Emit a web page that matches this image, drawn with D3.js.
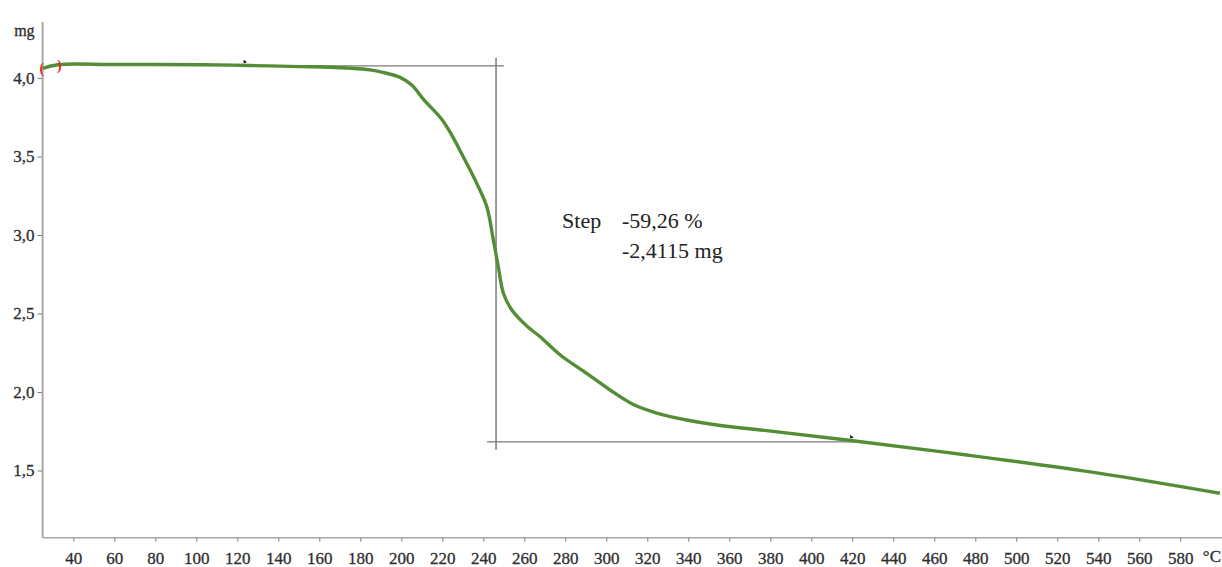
<!DOCTYPE html>
<html>
<head>
<meta charset="utf-8">
<script src="https://cdn.jsdelivr.net/npm/d3@7"></script>
<style>
  body { margin: 0; background: #fff; }
  svg { display: block; }
  svg text { font-family: "Liberation Serif", "Times New Roman", serif !important; }
</style>
</head>
<body>
<script>
// TGA curve: temperature (°C) and mass (mg)
var temps = [25, 32.5, 60, 103, 126, 150.6, 165, 175, 184.7, 191, 199.4, 205.1, 210.7,
  219.7, 224.6, 230.2, 236.8, 241.7, 244.9, 247.3, 249.8, 253.9, 261.2, 267.7, 277.5,
  290.4, 301.8, 313.2, 324.6, 339.2, 353.9, 378.2, 417.3, 475.8, 540.8, 599.3];
var masses = [4.062, 4.085, 4.086, 4.085, 4.080, 4.073, 4.069, 4.063, 4.052, 4.036, 4.004,
  3.955, 3.866, 3.738, 3.637, 3.499, 3.329, 3.180, 2.968, 2.798, 2.629, 2.522, 2.420,
  2.352, 2.236, 2.119, 2.013, 1.920, 1.866, 1.822, 1.790, 1.754, 1.694, 1.599, 1.482, 1.355];

// step evaluation
var stepTemp = 246.2;
var stepTop = 4.078, stepBottom = 1.683;
var stepLeft = 124, stepRight = 422;
var stepText = ["-59,26 %", "-2,4115 mg"];

// axis ticks
var xMajor = d3.range(40, 581, 20);
var xMinor = d3.range(30, 600, 10).filter(function (d) { return d % 20 !== 0; });
var yMajor = [1.5, 2.0, 2.5, 3.0, 3.5, 4.0];
var yMinor = d3.range(11, 44).map(function (d) { return d / 10; })
  .filter(function (d) { return yMajor.indexOf(d) < 0; });

// markers
var markTemps = [123.8, 419.7];
var markMasses = [4.100, 1.711];

var width = 1222, height = 567;

var svg = d3.select("body").append("svg")
  .attr("width", width)
  .attr("height", height);

var x = d3.scaleLinear().domain([25, 600]).range([42.6, 1221.3]);
var y = d3.scaleLinear().domain([1.072, 4.357]).range([537.7, 22]);

var comma = d3.formatLocale({decimal: ",", thousands: ".", grouping: [3], currency: ["", ""]}).format(".1f");

var axisColor = "#a8a8a8", textColor = "#2e2e2e";

// x axis
var gx = svg.append("g").attr("transform", "translate(0," + y.range()[0] + ")");
gx.call(d3.axisBottom(x).tickValues(xMinor).tickSize(3).tickFormat(""));
gx.call(d3.axisBottom(x).tickValues(xMajor).tickSize(4).tickPadding(10).tickFormat(function (d) { return d; }));
gx.attr("font-size", 17);
gx.selectAll(".domain").remove();
gx.selectAll("line").attr("stroke", "#777");
gx.selectAll("text").attr("fill", textColor).attr("stroke", textColor).attr("stroke-width", 0.3);
svg.append("line")
  .attr("x1", x.range()[0]).attr("x2", width)
  .attr("y1", y.range()[0]).attr("y2", y.range()[0])
  .attr("stroke", axisColor).attr("stroke-width", 1.5);
svg.append("text")
  .attr("x", width - 1).attr("y", 562)
  .attr("text-anchor", "end")
  .attr("fill", textColor)
  .attr("stroke", textColor).attr("stroke-width", 0.3)
  .attr("font-size", 17)
  .text("°C");

// y axis
var gy = svg.append("g").attr("transform", "translate(" + x.range()[0] + ",0)");
gy.call(d3.axisLeft(y).tickValues(yMinor).tickSize(4).tickFormat(""));
gy.call(d3.axisLeft(y).tickValues(yMajor).tickSize(5).tickPadding(3).tickFormat(comma));
gy.attr("font-size", 17);
gy.selectAll(".domain").remove();
gy.selectAll("line").attr("stroke", "#777");
gy.selectAll("text").attr("fill", textColor).attr("stroke", textColor).attr("stroke-width", 0.3);
gy.append("text")
  .attr("x", -8).attr("y", y(4.3))
  .attr("dy", "0.32em")
  .attr("text-anchor", "end")
  .attr("fill", textColor)
  .attr("stroke", textColor).attr("stroke-width", 0.3)
  .attr("font-size", 16)
  .text("mg");
svg.append("line")
  .attr("x1", x.range()[0]).attr("x2", x.range()[0])
  .attr("y1", y.range()[1]).attr("y2", y.range()[0])
  .attr("stroke", axisColor).attr("stroke-width", 2);

// step lines
var stepColor = "#7a7a7a";
svg.append("line")
  .attr("x1", x(stepLeft)).attr("x2", x(stepTemp) + 8)
  .attr("y1", y(stepTop)).attr("y2", y(stepTop))
  .attr("stroke", stepColor).attr("stroke-width", 1.2);
svg.append("line")
  .attr("x1", x(stepTemp) - 9).attr("x2", x(stepRight))
  .attr("y1", y(stepBottom)).attr("y2", y(stepBottom))
  .attr("stroke", stepColor).attr("stroke-width", 1.2);
svg.append("line")
  .attr("x1", x(stepTemp)).attr("x2", x(stepTemp))
  .attr("y1", y(stepTop) - 8).attr("y2", y(stepBottom) + 8)
  .attr("stroke", stepColor).attr("stroke-width", 1.5);

// curve
var data = temps.map(function (t, i) { return {t: t, m: masses[i]}; });
var line = d3.line()
  .x(function (d) { return x(d.t); })
  .y(function (d) { return y(d.m); })
  .curve(d3.curveCatmullRom.alpha(0.5));

svg.append("path")
  .datum(data)
  .attr("fill", "none")
  .attr("stroke", "#538d35")
  .attr("stroke-width", 3.4)
  .attr("stroke-linejoin", "round")
  .attr("d", line);

// red limit brackets at the start
svg.append("text")
  .attr("x", x(25) - 3).attr("y", y(4.062))
  .attr("dy", "0.35em")
  .attr("fill", "#e52a2a")
  .attr("font-size", 14)
  .attr("font-weight", "bold")
  .text("(");
svg.append("text")
  .attr("x", x(32.5) - 1).attr("y", y(4.082))
  .attr("dy", "0.35em")
  .attr("fill", "#e52a2a")
  .attr("font-size", 14)
  .attr("font-weight", "bold")
  .text(")");

// small black markers
svg.selectAll(".mark")
  .data(markTemps)
  .enter().append("path")
  .attr("class", "mark")
  .attr("transform", function (d, i) { return "translate(" + x(d) + "," + y(markMasses[i]) + ")"; })
  .attr("d", "M-1.5,-2.5L2,0L-1.5,1Z")
  .attr("fill", "#111");

// step annotation
var tx = x(stepTemp) + 66;
svg.append("text")
  .attr("x", tx).attr("y", 228)
  .attr("fill", "#222")
  .attr("font-size", 22)
  .text("Step");
svg.selectAll(".steptext")
  .data(stepText)
  .enter().append("text")
  .attr("class", "steptext")
  .attr("x", tx + 60)
  .attr("y", function (d, i) { return 228 + i * 30; })
  .attr("fill", "#222")
  .attr("font-size", 22)
  .text(function (d) { return d; });
</script>
</body>
</html>
